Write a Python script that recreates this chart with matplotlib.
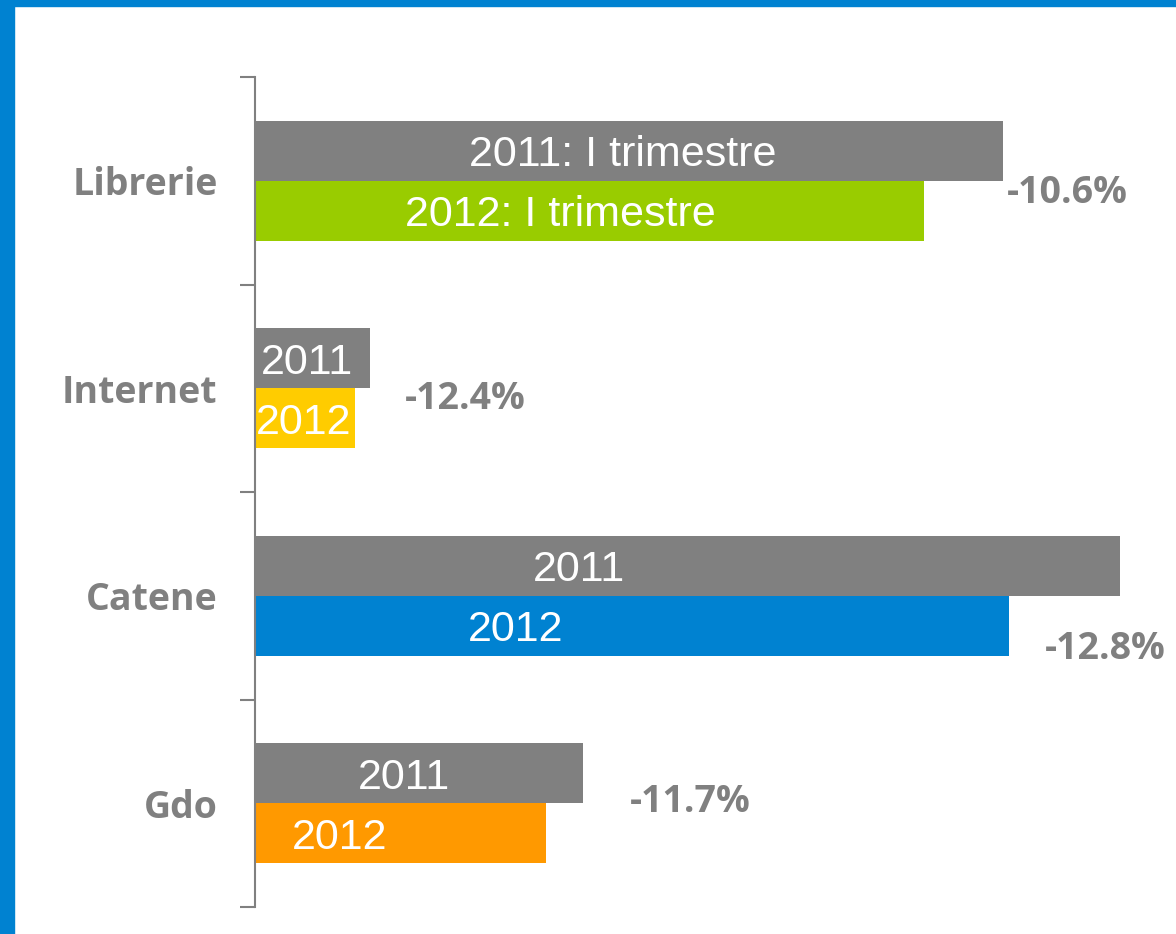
import matplotlib
matplotlib.use("Agg")
import matplotlib.pyplot as plt
from matplotlib.patches import Rectangle

categories = ["Librerie", "Internet", "Catene", "Gdo"]
values_2011 = [748, 115, 865, 328]
values_2012 = [669, 100, 754, 291]
colors_2012 = ["#99CC00", "#FFCC00", "#0082D1", "#FF9900"]
labels_2011 = ["2011: I trimestre", "2011", "2011", "2011"]
labels_2012 = ["2012: I trimestre", "2012", "2012", "2012"]
changes = ["-10.6%", "-12.4%", "-12.8%", "-11.7%"]

# layout (label positions in data units)
lab2011_x = [368, 52, 324, 149]
lab2012_x = [305, 49, 261, 85]
chg_x = [812, 210, 850, 435]
chg_dy = [0.035, 0.03, 0.236, -0.03]

GRAY = "#808080"
W, H = 1176, 934
fig = plt.figure(figsize=(W / 100, H / 100), dpi=100)
fig.patch.set_facecolor("white")

# slide border
fig.patches.append(Rectangle((0, 1 - 6 / H), 1, 6 / H, transform=fig.transFigure,
                             color="#0082D1", zorder=0))
fig.patches.append(Rectangle((0, 0), 14 / W, 1, transform=fig.transFigure,
                             color="#0082D1", zorder=0))

ax = fig.add_axes([255 / W, (H - 907) / H, 1 - 255 / W, (907 - 77) / H])
ax.set_xlim(0, W - 255)
ax.set_ylim(3.5, -0.5)

bh = 60 / 207.5
ys = range(len(categories))
for i in ys:
    ax.barh(i - bh / 2, values_2011[i], height=bh, color=GRAY, edgecolor="none")
    ax.barh(i + bh / 2, values_2012[i], height=bh, color=colors_2012[i], edgecolor="none")
    ax.text(lab2011_x[i], i - bh / 2, labels_2011[i], color="white", fontsize=31,
            family="Liberation Sans", ha="center", va="center_baseline")
    ax.text(lab2012_x[i], i + bh / 2, labels_2012[i], color="white", fontsize=31,
            family="Liberation Sans", ha="center", va="center_baseline")
    ax.text(chg_x[i], i + chg_dy[i], changes[i], color=GRAY, fontsize=27,
            family="Open Sans", fontweight="bold", ha="center", va="center_baseline")

for s in ["top", "right", "bottom"]:
    ax.spines[s].set_visible(False)
ax.spines["left"].set_color(GRAY)
ax.spines["left"].set_linewidth(1.5)
ax.set_xticks([])
ax.set_yticks([-0.5, 0.5, 1.5, 2.5, 3.5])
ax.set_yticklabels([])
ax.tick_params(axis="y", which="major", length=11, width=1.5, color=GRAY, direction="out")
ax.set_yticks(list(ys), minor=True)
ax.set_yticklabels(categories, minor=True)
ax.tick_params(axis="y", which="minor", length=0, pad=27)
for t in ax.get_yticklabels(minor=True):
    t.set_fontfamily("Open Sans")
    t.set_fontweight("bold")
    t.set_fontsize(27)
    t.set_color(GRAY)

fig.savefig("out.png", dpi=100)
